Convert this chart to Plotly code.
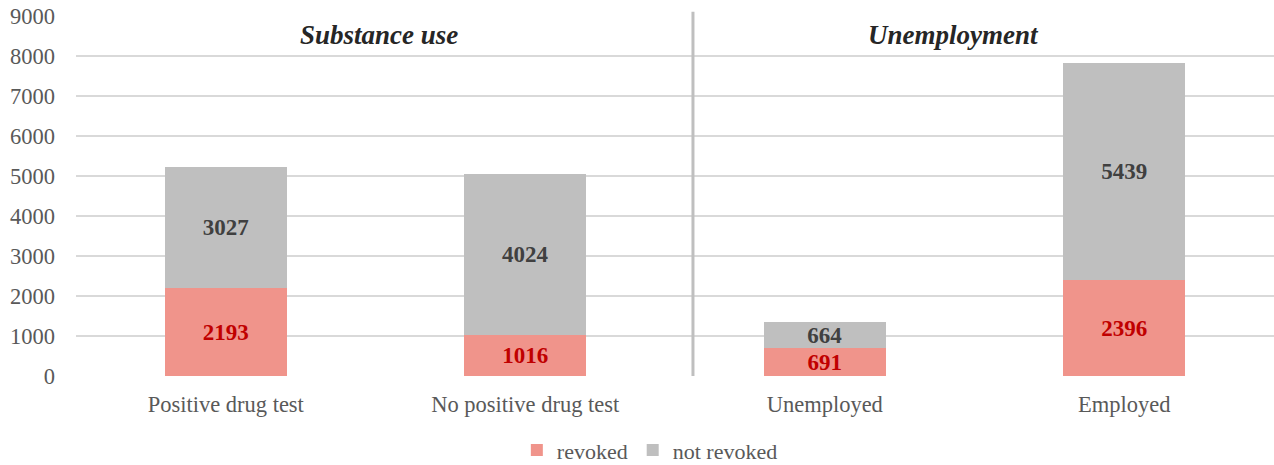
import plotly.graph_objects as go

categories = ["Positive drug test", "No positive drug test", "Unemployed", "Employed"]
revoked = [2193, 1016, 691, 2396]
not_revoked = [3027, 4024, 664, 5439]
y_ticks = [0, 1000, 2000, 3000, 4000, 5000, 6000, 7000, 8000, 9000]
group_titles = ["Substance use", "Unemployment"]

FONT = "Liberation Serif"
x_idx = list(range(len(categories)))

fig = go.Figure()
fig.add_trace(go.Bar(
    x=x_idx, y=revoked, name="revoked",
    marker=dict(color="#F0948B", line=dict(width=0)),
    text=[str(v) for v in revoked], textposition="inside",
    insidetextanchor="middle", constraintext="none",
    textfont=dict(family=FONT, size=23, color="#C00000", weight="bold"),
))
fig.add_trace(go.Bar(
    x=x_idx, y=not_revoked, name="not revoked",
    marker=dict(color="#BFBFBF", line=dict(width=0)),
    text=[str(v) for v in not_revoked], textposition="inside",
    insidetextanchor="middle", constraintext="none",
    textfont=dict(family=FONT, size=23, color="#404040", weight="bold"),
))

fig.update_layout(
    barmode="stack", bargap=0.593,
    width=1274, height=465,
    margin=dict(l=76, r=0, t=16, b=89, autoexpand=False),
    paper_bgcolor="white", plot_bgcolor="white",
    font=dict(family=FONT, size=22, color="#595959"),
    showlegend=True,
    legend=dict(orientation="h", x=0.479, xanchor="center",
                yref="container", y=0.032, yanchor="middle",
                font=dict(family=FONT, size=22, color="#595959"), itemwidth=30,
                traceorder="normal"),
    xaxis=dict(tickmode="array", tickvals=x_idx, ticktext=categories,
               range=[-0.5, len(categories) - 0.5], showgrid=False, zeroline=False,
               showline=False, ticks="", ticklabelstandoff=12,
               tickfont=dict(family=FONT, size=22.5, color="#595959")),
    yaxis=dict(range=[0, 9000], tickmode="array", tickvals=y_ticks,
               showgrid=True, gridcolor="#D9D9D9", gridwidth=1.5,
               zeroline=False, showline=False, ticks="", ticklabelstandoff=20,
               tickfont=dict(family=FONT, size=22.5, color="#595959")),
)

# divider between groups
fig.add_shape(type="line", xref="x", yref="paper", x0=1.56, x1=1.56, y0=0, y1=1.012,
              line=dict(color="#BFBFBF", width=3))

# group titles
for title, xc in zip(group_titles, [0.51, 2.43]):
    fig.add_annotation(text=f"<b><i>{title}</i></b>", xref="x", yref="paper",
                       x=xc, y=0.948, showarrow=False, yanchor="middle",
                       font=dict(family=FONT, size=27, color="#262626"))

fig.write_html("out.html")
